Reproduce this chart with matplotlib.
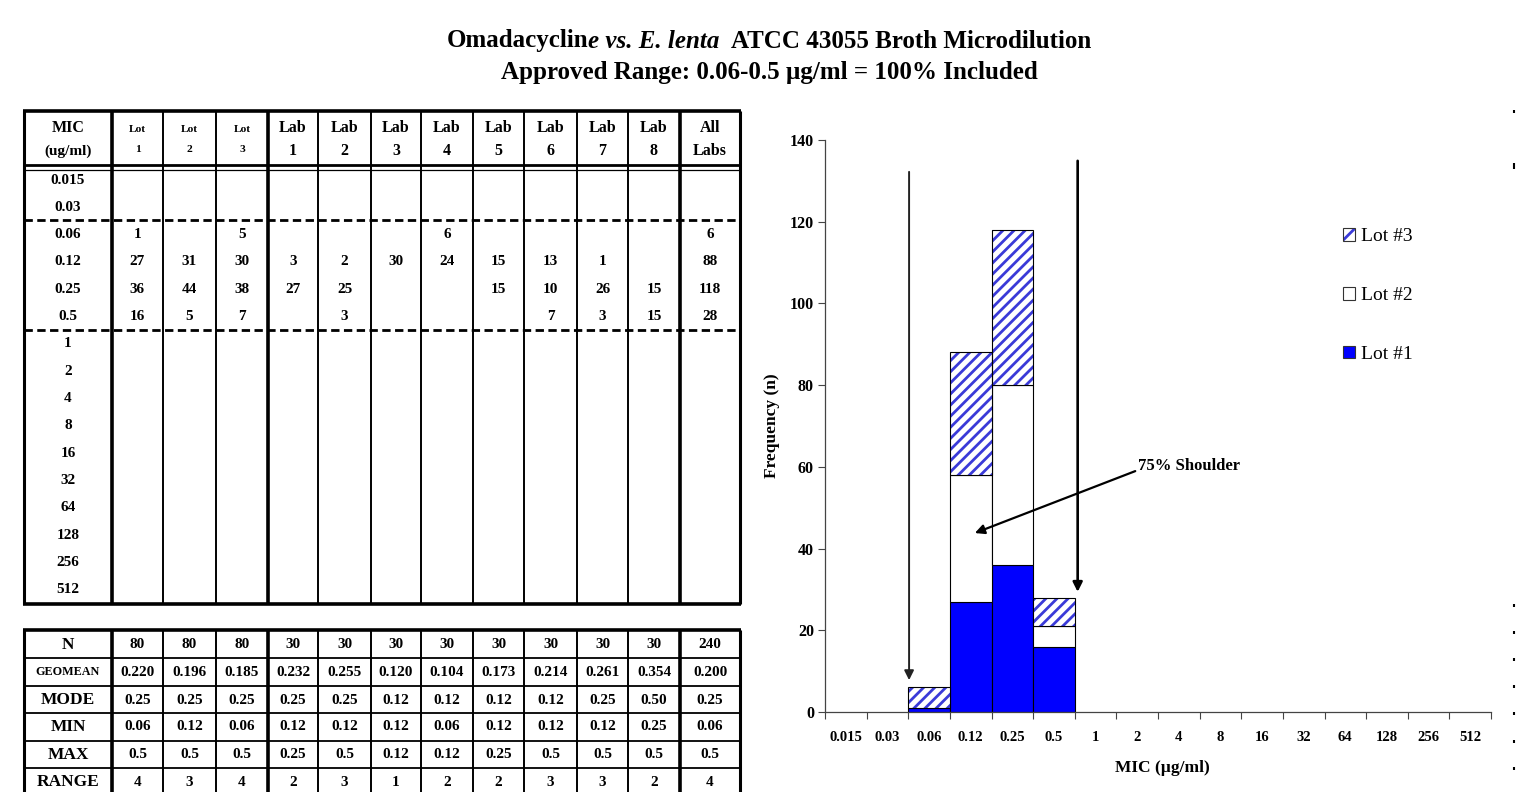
import matplotlib
matplotlib.use("Agg")
import matplotlib.pyplot as plt
from matplotlib.patches import Patch
from matplotlib.legend_handler import HandlerTuple
import numpy as np

# ---------------- data ----------------
mic_labels = ["0.015", "0.03", "0.06", "0.12", "0.25", "0.5", "1", "2", "4",
              "8", "16", "32", "64", "128", "256", "512"]
col_top = ["Lot", "Lot", "Lot", "Lab", "Lab", "Lab", "Lab", "Lab", "Lab", "Lab", "Lab", "All"]
col_bot = ["1", "2", "3", "1", "2", "3", "4", "5", "6", "7", "8", "Labs"]

N_ = None
lot1 = [N_, N_, 1, 27, 36, 16] + [N_] * 10
lot2 = [N_, N_, N_, 31, 44, 5] + [N_] * 10
lot3 = [N_, N_, 5, 30, 38, 7] + [N_] * 10
lab1 = [N_, N_, N_, 3, 27, N_] + [N_] * 10
lab2 = [N_, N_, N_, 2, 25, 3] + [N_] * 10
lab3 = [N_, N_, N_, 30, N_, N_] + [N_] * 10
lab4 = [N_, N_, 6, 24, N_, N_] + [N_] * 10
lab5 = [N_, N_, N_, 15, 15, N_] + [N_] * 10
lab6 = [N_, N_, N_, 13, 10, 7] + [N_] * 10
lab7 = [N_, N_, N_, 1, 26, 3] + [N_] * 10
lab8 = [N_, N_, N_, N_, 15, 15] + [N_] * 10
all_labs = [N_, N_, 6, 88, 118, 28] + [N_] * 10
count_cols = [lot1, lot2, lot3, lab1, lab2, lab3, lab4, lab5, lab6, lab7, lab8, all_labs]

stat_names = ["N", "GEOMEAN", "MODE", "MIN", "MAX", "RANGE"]
n_vals = ["80", "80", "80", "30", "30", "30", "30", "30", "30", "30", "30", "240"]
geomean_vals = ["0.220", "0.196", "0.185", "0.232", "0.255", "0.120", "0.104", "0.173",
                "0.214", "0.261", "0.354", "0.200"]
mode_vals = ["0.25", "0.25", "0.25", "0.25", "0.25", "0.12", "0.12", "0.12", "0.12",
             "0.25", "0.50", "0.25"]
min_vals = ["0.06", "0.12", "0.06", "0.12", "0.12", "0.12", "0.06", "0.12", "0.12",
            "0.12", "0.25", "0.06"]
max_vals = ["0.5", "0.5", "0.5", "0.25", "0.5", "0.12", "0.12", "0.25", "0.5", "0.5",
            "0.5", "0.5"]
range_vals = ["4", "3", "4", "2", "3", "1", "2", "2", "3", "3", "2", "4"]
stat_rows = [n_vals, geomean_vals, mode_vals, min_vals, max_vals, range_vals]

legend_labels = ["Lot #3", "Lot #2", "Lot #1"]

# ---------------- figure ----------------
plt.rcParams["font.family"] = ["Liberation Serif", "DejaVu Serif"]
plt.rcParams["hatch.linewidth"] = 2.0

W, H = 1531, 792
fig = plt.figure(figsize=(W / 100, H / 100), dpi=100)
fig.patch.set_facecolor("white")

# overlay axes in pixel units for table / title layout
tb = fig.add_axes([0, 0, 1, 1])
tb.set_xlim(0, W)
tb.set_ylim(H, 0)
tb.axis("off")


def hline(x0, x1, y, lw, **kw):
    tb.plot([x0, x1], [y, y], color="black", lw=lw, solid_capstyle="butt", **kw)


def vline(x, y0, y1, lw):
    tb.plot([x, x], [y0, y1], color="black", lw=lw, solid_capstyle="butt")


# --- title (mixed bold / bold italic) ---
renderer = fig.canvas.get_renderer()


def mixed_line(pieces, cx, y, size):
    texts = []
    total = 0
    for s, style, gap in pieces:
        t = tb.text(0, y, s, fontsize=size, fontweight="bold", fontstyle=style,
                    ha="left", va="center")
        w = t.get_window_extent(renderer).width
        texts.append((t, w, gap))
        total += w + gap
    x = cx - total / 2
    for t, w, gap in texts:
        t.set_x(x)
        x += w + gap


TITLE_FS = 18
mixed_line([("Omadacyclin", "normal", 0), ("e vs. E. lenta", "italic", 12),
            ("ATCC 43055 Broth Microdilution", "normal", 0)], 769, 41, TITLE_FS)
tb.text(769, 72, "Approved Range: 0.06-0.5 \u00b5g/ml = 100% Included", fontsize=TITLE_FS,
        fontweight="bold", ha="center", va="center")

# --- top table ---
xb = [24, 112, 163, 216, 268, 318, 371, 421, 473, 524, 577, 628, 680, 740]
thick_idx = {1, 4, 12}
top_y0, top_y1 = 111, 604
for i, x in enumerate(xb):
    if i in (0, len(xb) - 1):
        vline(x, top_y0, top_y1, 2.2)
    elif i in thick_idx:
        vline(x, top_y0, top_y1, 2.6)
    else:
        vline(x, top_y0, top_y1, 1.4)
hline(xb[0] - 1, xb[-1] + 1, top_y0, 2.6)
hline(xb[0] - 1, xb[-1] + 1, top_y1, 2.6)
hline(xb[0], xb[-1], 165, 2.0)
hline(xb[0], xb[-1], 169.5, 0.9)
for yd in (220, 330):
    tb.plot([xb[0], xb[-1]], [yd, yd], color="black", lw=2.0, dashes=(3, 1.6))

centers = [(xb[i] + xb[i + 1]) / 2 for i in range(len(xb) - 1)]
tb.text(centers[0], 128, "MIC", fontsize=11.5, fontweight="bold", ha="center", va="center")
tb.text(centers[0], 151, "(ug/ml)", fontsize=11, fontweight="bold", ha="center", va="center")
for j, (a, b) in enumerate(zip(col_top, col_bot)):
    cx = centers[j + 1]
    fs = 8.2 if a == "Lot" else 11.5
    tb.text(cx, 129 if a == "Lot" else 128, a, fontsize=fs, fontweight="bold",
            ha="center", va="center")
    tb.text(cx, 149 if a == "Lot" else 151, b, fontsize=fs, fontweight="bold",
            ha="center", va="center")

TABLE_FS = 11
row_y = [180 + 27.33 * i for i in range(len(mic_labels))]
for i, lab in enumerate(mic_labels):
    tb.text(centers[0], row_y[i], lab, fontsize=TABLE_FS, fontweight="bold",
            ha="center", va="center")
    for j, col in enumerate(count_cols):
        v = col[i]
        if v is not None:
            tb.text(centers[j + 1], row_y[i], str(v), fontsize=TABLE_FS, fontweight="bold",
                    ha="center", va="center")

# --- bottom (stats) table ---
bot_y0, bot_y1 = 630, 800
for i, x in enumerate(xb):
    if i in (0, len(xb) - 1):
        vline(x, bot_y0, bot_y1, 2.2)
    elif i in thick_idx:
        vline(x, bot_y0, bot_y1, 2.6)
    else:
        vline(x, bot_y0, bot_y1, 1.4)
hline(xb[0] - 1, xb[-1] + 1, bot_y0, 2.6)
for yl in (658, 686, 713, 741, 768):
    hline(xb[0], xb[-1], yl, 1.3)
stat_y = [645, 672, 700, 727, 755, 782]
for r, name in enumerate(stat_names):
    tb.text(centers[0], stat_y[r], name, fontsize=8.7 if name == "GEOMEAN" else 12.5,
            fontweight="bold", ha="center", va="center")
    for j, v in enumerate(stat_rows[r]):
        tb.text(centers[j + 1], stat_y[r], v, fontsize=11, fontweight="bold",
                ha="center", va="center")

# small marks at right edge of page
for ym in (111, 164, 167, 605, 632, 659, 686, 713, 741, 768):
    tb.plot([1514, 1514], [ym - 1.5, ym + 1.5], color="black", lw=1.5, solid_capstyle="butt")

# ---------------- bar chart ----------------
ax = fig.add_axes([825 / W, (H - 712) / H, (1491 - 825) / W, (712 - 140) / H])
x = np.arange(len(mic_labels))
l1 = np.array([v or 0 for v in lot1], dtype=float)
l2 = np.array([v or 0 for v in lot2], dtype=float)
l3 = np.array([v or 0 for v in lot3], dtype=float)

BLUE = "#0000ff"
HATCH_BLUE = "#3a3ad8"
m1, m2, m3 = l1 > 0, l2 > 0, l3 > 0
ax.bar(x[m1], l1[m1], width=1.0, color=BLUE, edgecolor="black", lw=0.8, zorder=2)
ax.bar(x[m2], l2[m2], bottom=l1[m2], width=1.0, color="white", edgecolor="black",
       lw=0.8, zorder=2)
ax.bar(x[m3], l3[m3], bottom=(l1 + l2)[m3], width=1.0, color="white",
       edgecolor=HATCH_BLUE, hatch="///", lw=0, zorder=2)
ax.bar(x[m3], l3[m3], bottom=(l1 + l2)[m3], width=1.0, fill=False, edgecolor="black",
       lw=0.8, zorder=3)

ax.set_xlim(-0.5, len(mic_labels) - 0.5)
ax.set_ylim(0, 140)
ax.set_xticks(np.arange(-0.5, len(mic_labels), 1.0))
ax.set_xticklabels([])
ax.set_xticks(x, minor=True)
ax.set_xticklabels(mic_labels, minor=True, fontsize=10.5, fontweight="bold")
ax.tick_params(axis="x", which="major", direction="out", length=5, width=0.8, color="#444444")
ax.tick_params(axis="x", which="minor", length=0, pad=13.5)
ax.set_yticks(np.arange(0, 141, 20))
ax.set_yticklabels([str(v) for v in range(0, 141, 20)], fontsize=11.5, fontweight="bold")
ax.tick_params(axis="y", direction="out", length=5, width=0.8, color="#444444", pad=3)
for s in ("top", "right"):
    ax.spines[s].set_visible(False)
for s in ("left", "bottom"):
    ax.spines[s].set_color("#444444")
    ax.spines[s].set_linewidth(0.9)
ax.patch.set_alpha(0)

ax.text(-0.079, 0.5, "Frequency (n)", transform=ax.transAxes, rotation=90,
        fontsize=12.5, fontweight="bold", ha="center", va="center")
ax.text(0.506, -0.098, "MIC (\u00b5g/ml)", transform=ax.transAxes,
        fontsize=12.5, fontweight="bold", ha="center", va="center")

# range arrows
ax.annotate("", xy=(1.52, 7.8), xytext=(1.52, 132.2),
            arrowprops=dict(arrowstyle="-|>", color="#222222", lw=1.4,
                            mutation_scale=14, shrinkA=0, shrinkB=0))
ax.annotate("", xy=(5.57, 29.4), xytext=(5.57, 134.9),
            arrowprops=dict(arrowstyle="-|>", color="black", lw=1.9,
                            mutation_scale=14, shrinkA=0, shrinkB=0))
ax.annotate("75% Shoulder", xy=(3.1, 43.8), xytext=(7.02, 60.2),
            fontsize=12, fontweight="bold", ha="left", va="center",
            arrowprops=dict(arrowstyle="-|>", color="black", lw=1.6,
                            mutation_scale=14, shrinkA=0, shrinkB=0, relpos=(0, 0.25)))

# legend
h3 = (Patch(facecolor="white", edgecolor=HATCH_BLUE, hatch="//", lw=0),
      Patch(facecolor="none", edgecolor="#333333", lw=0.8))
h2 = Patch(facecolor="white", edgecolor="#333333", lw=0.8)
h1 = Patch(facecolor=BLUE, edgecolor="#333333", lw=0.8)
fig.legend([h3, h2, h1], legend_labels, handler_map={tuple: HandlerTuple(ndivide=1, pad=0)},
           loc="upper left", bbox_to_anchor=(1343 / W, 1 - 228 / H), frameon=False,
           prop={"size": 14}, handlelength=0.62, handleheight=0.62, handletextpad=0.3,
           labelspacing=2.15, borderpad=0, borderaxespad=0)

fig.savefig("out.png", dpi=100, facecolor="white")
